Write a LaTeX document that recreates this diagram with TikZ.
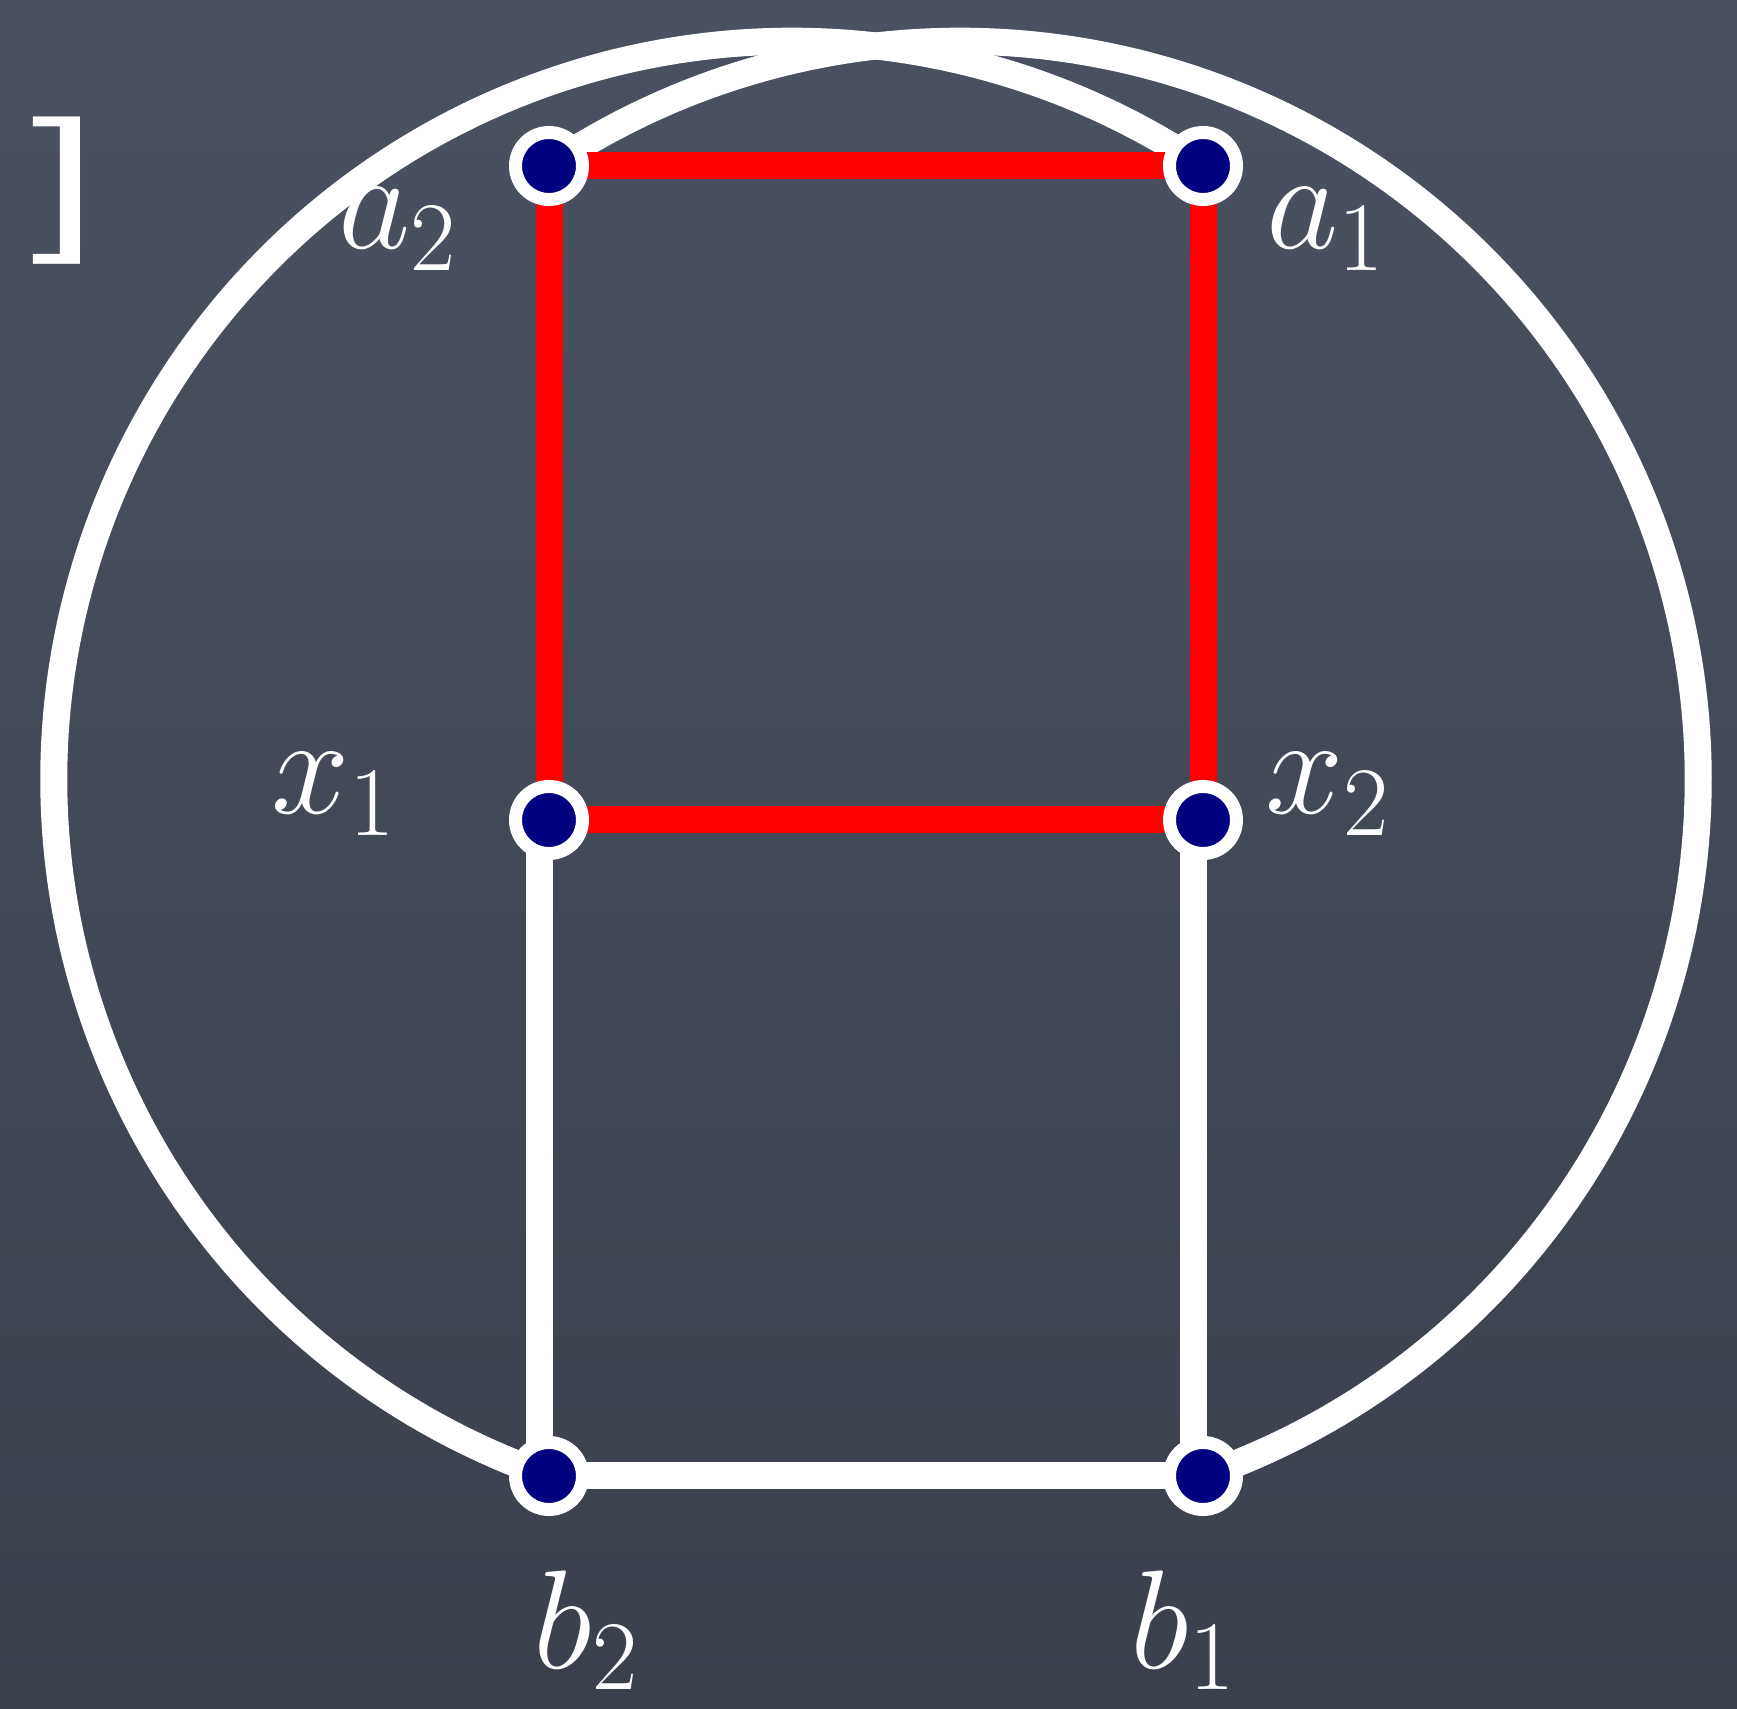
\RequirePackage{fix-cm}
\documentclass[tikz,border=0pt]{standalone}
\usepackage{fontspec}
\newfontfamily\boardfont{Liberation Sans}
\usetikzlibrary{calc}
\definecolor{boardslate}{HTML}{4A5160}
\definecolor{boarddark}{HTML}{3A404C}
\definecolor{vertexnavy}{HTML}{000080}
\definecolor{cyclered}{HTML}{FF0000}
\tikzset{
  every picture/.style={font=\fontsize{40}{48}\selectfont,text=white},
  vertex/.style={circle,draw=white,fill=vertexnavy,line width=1.3mm,
    minimum size=6.7mm,inner sep=0pt},
  chalk/.style={draw=white,line width=2.7mm},
  redpath/.style={draw=cyclered,line width=2.7mm},
  vlabel/.style={anchor=base west,inner sep=0pt},
}

\begin{document}
\begin{tikzpicture}[x=1cm,y=1cm]
  \path[use as bounding box] (0,0) rectangle (17.37,17.08);
  % slate board; the bracket is what is left of a cut-off caption
  \shade[top color=boardslate,bottom color=boarddark] (0,0) rectangle (17.37,17.08);
  \node[font=\boardfont\fontsize{45}{54}\selectfont,xscale=1.5] (brk) at (0.64,15.17) {]};
  \coordinate (a2) at (5.49,15.42);
  \coordinate (a1) at (12.03,15.42);
  \coordinate (x1) at (5.49,8.88);
  \coordinate (x2) at (12.03,8.88);
  \coordinate (b2) at (5.49,2.32);
  \coordinate (b1) at (12.03,2.32);
  % the two long edges b2-a1 and b1-a2 are circle arcs crossing at the top
  \draw[chalk] (b2) arc[start angle=250.78,end angle=56.16,radius=7.38];
  \draw[chalk] (b1) arc[start angle=-70.78,end angle=123.84,radius=7.38];
  \draw[chalk] ([xshift=-1mm]x1) -- ([xshift=-1mm]b2);
  \draw[chalk] ([xshift=-1mm]x2) -- ([xshift=-1mm]b1);
  \draw[chalk] (b2) -- (b1);
  \draw[redpath] (a2) -- (a1) -- (x2) -- (x1) -- cycle;
  \foreach \v in {a1,a2,x1,x2,b1,b2} {\node[vertex] (\v-dot) at (\v) {};}
  \node[vlabel] (a2-tag) at (3.38,14.59) {$a_2$};
  \node[vlabel] (a1-tag) at (12.66,14.59) {$a_1$};
  \node[vlabel] (x1-tag) at (2.71,8.94) {$x_1$};
  \node[vlabel] (x2-tag) at (12.65,8.94) {$x_2$};
  \node[vlabel] (b2-tag) at (5.33,0.40) {$b_2$};
  \node[vlabel] (b1-tag) at (11.30,0.40) {$b_1$};
\end{tikzpicture}
\end{document}
